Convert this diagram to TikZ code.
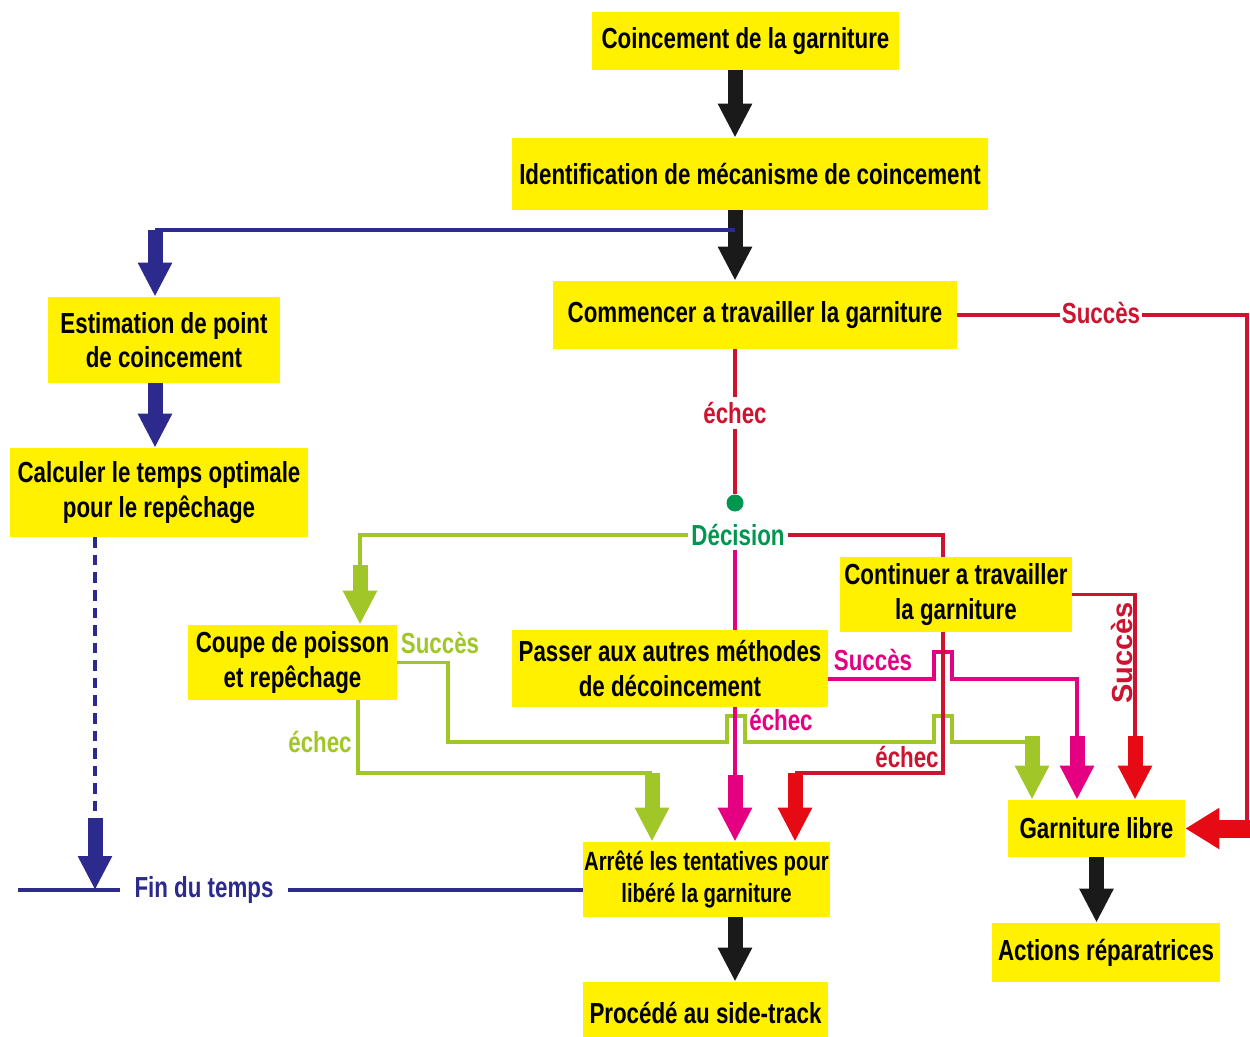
\documentclass[tikz,border=0pt]{standalone}
\usepackage{fontspec}
\setmainfont{Liberation Sans}[FakeStretch=0.77]
\newfontfamily\widesans{Liberation Sans}
\usetikzlibrary{arrows.meta,calc}

\definecolor{boxyellow}{RGB}{255,241,0}
\definecolor{navyline}{RGB}{44,42,140}
\definecolor{crimsonline}{RGB}{204,20,48}
\definecolor{brightred}{RGB}{230,10,20}
\definecolor{limeline}{RGB}{160,198,40}
\definecolor{pinkline}{RGB}{228,0,128}
\definecolor{decgreen}{RGB}{0,150,80}
\definecolor{arrowblack}{RGB}{26,26,26}

\begin{document}
\begin{tikzpicture}[x=0.02cm,y=-0.02cm,
  box/.style={fill=boxyellow, inner sep=0pt, align=center,
    font=\fontsize{16.5}{19.5}\selectfont\bfseries, text=black},
  lbl/.style={font=\fontsize{16.5}{19.5}\selectfont\bfseries, inner sep=2pt},
  link/.style={line width=2.1pt},
  fat/.style={line width=0.3cm, -{Triangle[length=0.68cm,width=0.64cm]}},
]
\fill[white] (0,0) rectangle (1250,1037);
\useasboundingbox (0,0) rectangle (1250,1037);

% boxes
\node[box, minimum width=6.14cm, minimum height=1.16cm] (b1) at (745.5,41) {Coincement de la garniture};
\node[box, minimum width=9.52cm, minimum height=1.44cm] (b2) at (750,174) {Identification de mécanisme de coincement};
\node[box, minimum width=8.08cm, minimum height=1.36cm] (b3) at (755,315) {Commencer a travailler la garniture};
\node[box, minimum width=4.64cm, minimum height=1.72cm] (b4) at (164,340) {Estimation de point\\de coincement};
\node[box, minimum width=5.96cm, minimum height=1.78cm] (b5) at (159,492.5) {Calculer le temps optimale\\pour le repêchage};
\node[box, minimum width=4.18cm, minimum height=1.5cm] (b6) at (292.5,662.5) {Coupe de poisson\\et repêchage};
\node[box, minimum width=6.32cm, minimum height=1.54cm] (b7) at (670,668.5) {Passer aux autres méthodes\\de décoincement};
\node[box, minimum width=4.64cm, minimum height=1.5cm] (b8) at (956,594.5) {Continuer a travailler\\la garniture};
\node[box, minimum width=3.54cm, minimum height=1.14cm] (b9) at (1096.5,828.5) {Garniture libre};
\node[box, minimum width=4.56cm, minimum height=1.18cm] (b10) at (1106,952.5) {Actions réparatrices};
\node[box, minimum width=4.94cm, minimum height=1.5cm,
  font=\fontsize{15}{18.5}\selectfont\bfseries] (b11) at (706.5,879.5) {Arrêté les tentatives pour\\libéré la garniture};
\node[box, minimum width=4.9cm, minimum height=1.24cm] (b12) at (705.5,1013) {Procédé au side-track};

% decision point
\node[circle, fill=decgreen, minimum size=0.34cm, inner sep=0pt] (dot) at (735,503) {};
\node[lbl, text=decgreen] (dec) at (738,535) {Décision};

% main column
\draw[fat, arrowblack] (b1.south -| dot) -- (b2.north -| dot);
\draw[fat, arrowblack] (b2.south -| dot) -- (b3.north -| dot);

% left branch: stuck point and time budget
\coordinate (bj) at (735,230);
\coordinate (lc) at (155,230);
\draw[link, navyline] (bj) -- (lc);
\draw[fat, navyline] (lc) -- (lc |- b4.north);
\draw[fat, navyline] (b4.south -| lc) -- (b5.north -| lc);
\coordinate (fa) at (95,818);
\coordinate (fend) at (18,890);
\node[lbl, text=navyline, inner xsep=0.28cm] (fin) at (204,890) {Fin du temps};
\draw[navyline, line width=2.3pt, dash pattern=on 6pt off 4pt] (b5.south -| fa) -- (fa);
\draw[fat, navyline] (fa) -- (fa |- fin);
\draw[link, navyline] (fend) -- (fin.west);
\draw[link, navyline] (fin.east) -- (b11.west |- fin);

% success straight after working the string
\node[lbl, text=crimsonline, inner xsep=1pt] (s1) at (1101,313) {Succès};
\coordinate (rR) at (1247,828.5);
\coordinate (rt) at (1260,828.5);
\draw[link, crimsonline] (b3.east) -- (b3.east -| s1.west);
\draw[link, crimsonline] (b3.east -| s1.east) -- (b3.east -| rR) -- (rR);
\draw[brightred, line width=0.36cm, -{Triangle[length=0.68cm,width=0.78cm]}] (rt) -- (b9.east);

% failure leads to the decision point
\node[lbl, text=crimsonline, inner sep=3pt] (e1) at (735,413) {échec};
\draw[link, crimsonline] (b3.south -| dot) -- (e1.north);
\draw[link, crimsonline] (e1.south) -- (dot);

% three options from the decision
\coordinate (gc) at (360,565);
\draw[link, limeline] (dec.west) -- (dec.west -| gc) -- (gc);
\draw[fat, limeline] (gc) -- (b6.north -| gc);

\coordinate (rc) at (943,773);
\draw[link, crimsonline] (dec.east) -- (dec.east -| rc) -- (b8.north -| rc);

\draw[link, pinkline] (dec.south -| dot) -- (b7.north -| dot);

% fishing: success
\node[lbl, text=limeline] (s2) at (440,643) {Succès};
\coordinate (ga) at (1032,736);
\draw[link, limeline] (b6.east) -- (448,662.5) -- (448,742) -- (727,742) -- (727,716) -- (745,716)
  -- (745,742) -- (934,742) -- (934,716) -- (952,716) -- (952,742) -- (1032,742);
\draw[fat, limeline] (ga) -- (ga |- b9.north);

% fishing: failure
\node[lbl, text=limeline] (e2) at (320,742) {échec};
\coordinate (gx) at (358,773);
\coordinate (gb) at (652,773);
\draw[link, limeline] (b6.south -| gx) -- (gx) -- (gb);
\draw[fat, limeline] (gb) -- (gb |- b11.north);

% other methods: success
\node[lbl, text=pinkline] (s3) at (873,660) {Succès};
\coordinate (my) at (952,679);
\coordinate (ma) at (1077,736);
\draw[link, pinkline] (b7.east |- my) -- (934,679) -- (934,652) -- (952,652) -- (my) -- (1077,679) -- (ma);
\draw[fat, pinkline] (ma) -- (ma |- b9.north);

% other methods: failure
\node[lbl, text=pinkline] (e3) at (781,720) {échec};
\coordinate (mb) at (735,775);
\draw[link, pinkline] (b7.south -| dot) -- (mb);
\draw[fat, pinkline] (mb) -- (mb |- b11.north);

% keep working: failure
\node[lbl, text=crimsonline] (e4) at (907,757) {échec};
\coordinate (rb) at (795,773);
\draw[link, crimsonline] (b8.south -| rc) -- (rc) -- (rb);
\draw[fat, brightred] (rb) -- (rb |- b11.north);

% keep working: success
\node[lbl, text=crimsonline, rotate=90, font=\fontsize{16.5}{19.5}\selectfont\widesans\bfseries] (s4) at (1122,653) {Succès};
\coordinate (ra) at (1135,736);
\draw[link, crimsonline] (b8.east) -- (b8.east -| ra) -- (ra);
\draw[fat, brightred] (ra) -- (ra |- b9.north);

% final steps
\draw[fat, arrowblack] (b9.south) -- (b9.south |- b10.north);
\draw[fat, arrowblack] (b11.south -| dot) -- (b12.north -| dot);
\end{tikzpicture}
\end{document}
